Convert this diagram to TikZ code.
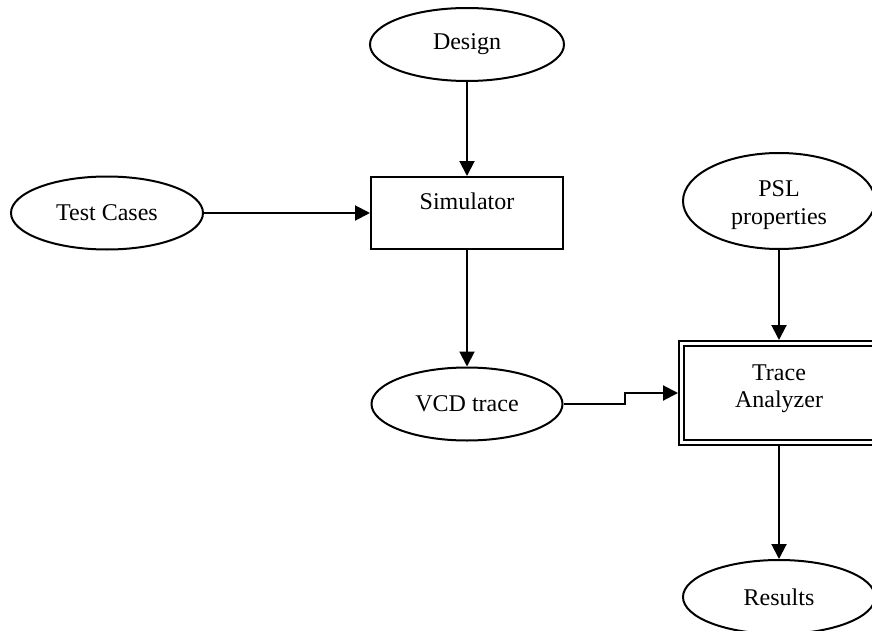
\documentclass[tikz,border=0pt]{standalone}
\usepackage{fontspec}
\setmainfont{Liberation Serif}
\usetikzlibrary{shapes.geometric,arrows.meta}
\begin{document}
\begin{tikzpicture}[x=0.5pt,y=-0.5pt,
  every node/.style={font=\fontsize{12}{13.7}\selectfont},
  oval/.style={draw, ellipse, line width=1pt, inner sep=0pt, minimum width=96pt, minimum height=36.5pt},
  stepbox/.style={draw, rectangle, line width=1pt, inner sep=0pt},
  txt/.style={inner sep=0pt, align=center},
  arr/.style={line width=1pt, -{Triangle[width=7.5pt,length=7.5pt]}}]
\useasboundingbox (0,0) rectangle (872,631);

% inputs and intermediate data
\node[oval, minimum width=97pt] (design) at (467,44.5) {Design};
\node[oval] (tests) at (107,213) {Test Cases};
\node[oval, minimum width=95.5pt] (vcd) at (467,404) {VCD trace};
\node[oval, minimum height=48pt] (psl) at (779,201) {};
\node[txt] (psltext) at (779,205) {PSL\\properties};
\node[oval, minimum height=37pt] (results) at (779,597) {Results};

% simulator
\node[stepbox, minimum width=96pt, minimum height=36pt] (sim) at (467,213) {};
\node[txt] (simtext) at (467,201.5) {Simulator};

% trace analyzer (double border)
\node[stepbox, minimum width=100pt, minimum height=52pt] (ta) at (779,393) {};
\draw[line width=0.9pt] ([shift={(2.9pt,-2.9pt)}]ta.north west) rectangle ([shift={(-2.9pt,2.9pt)}]ta.south east);
\node[txt] (tatext) at (779,389) {Trace\\Analyzer};

% connectors
\draw[arr] (design) -- (sim);
\draw[arr] (tests) -- (sim);
\draw[arr] (sim) -- (vcd);
\draw[arr] (vcd.east) -- ([xshift=30.5pt]vcd.east) |- (ta.west);
\draw[arr] (psl) -- (ta);
\draw[arr] (ta) -- (results);
\end{tikzpicture}
\end{document}
